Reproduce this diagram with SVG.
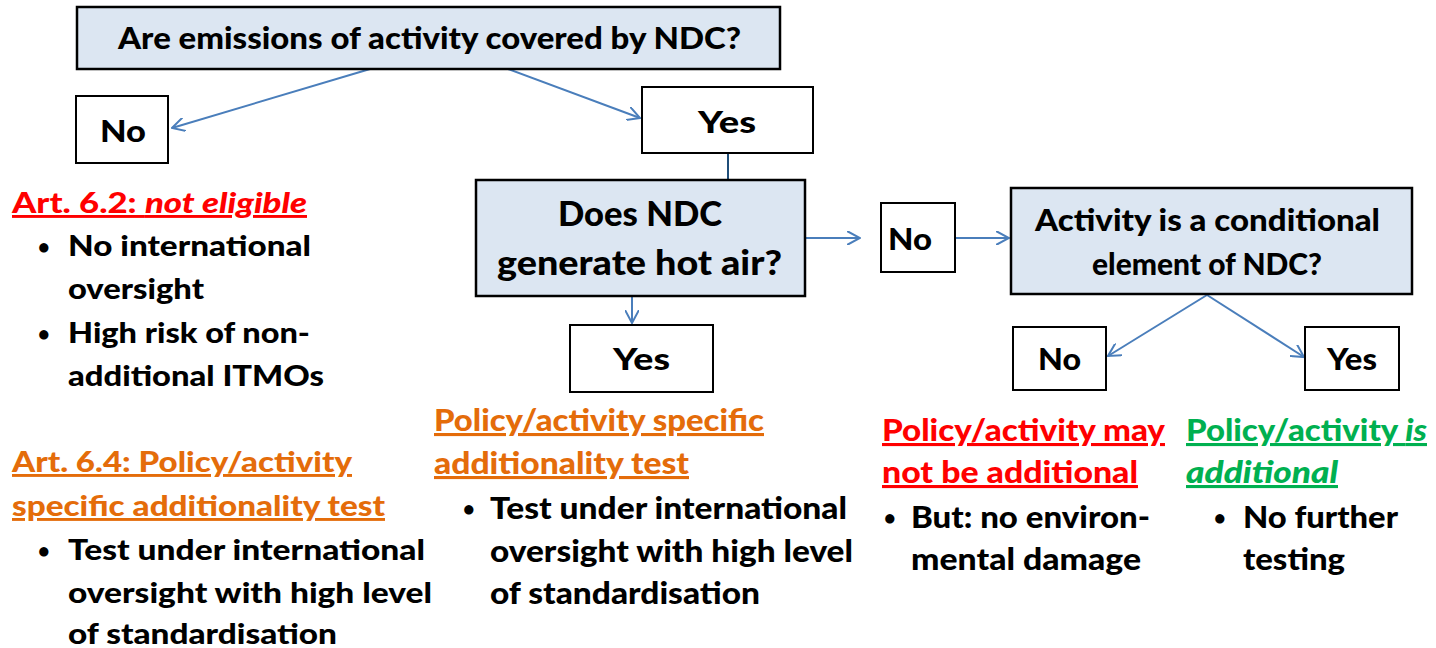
<svg xmlns="http://www.w3.org/2000/svg" width="1436" height="648" viewBox="0 0 1436 648">
  <style>
    .q { fill: #dce6f2; stroke: #000; stroke-width: 2.5; }
    .a { fill: #fff; stroke: #000; stroke-width: 2; }
    text { font-family: Lato, "Liberation Sans", sans-serif; font-weight: 900; fill: #000; }
    .u { text-decoration: underline; }
    .b { font-size: 20px; }
    .red { fill: #ff0000; }
    .org { fill: #e46c0a; }
    .grn { fill: #00b050; }
    .conn line { stroke: #4a7ebb; stroke-width: 2; marker-end: url(#arr); }
  </style>
  <defs>
    <marker id="arr" viewBox="0 0 14 14" refX="13" refY="7" markerWidth="14" markerHeight="14" markerUnits="userSpaceOnUse" orient="auto">
      <path d="M0,0 L13,7 L0,14" fill="none" stroke="#4a7ebb" stroke-width="2"/>
    </marker>
  </defs>

  <rect width="1436" height="648" fill="#fff"/>

  <!-- connectors -->
  <g id="connectors" class="conn">
    <line x1="370" y1="69" x2="172" y2="128"/>
    <line x1="508" y1="69" x2="640" y2="118"/>
    <line x1="728" y1="153" x2="728" y2="180" style="marker-end:none;stroke:#1f4e79"/>
    <line x1="632" y1="296" x2="632" y2="323"/>
    <line x1="805" y1="238" x2="860" y2="238"/>
    <line x1="956" y1="238" x2="1009" y2="238"/>
    <line x1="1207" y1="295" x2="1108" y2="356"/>
    <line x1="1207" y1="295" x2="1304" y2="357"/>
  </g>

  <g id="q-covered">
    <rect class="q" x="77" y="7" width="703" height="62"/>
    <text x="118" y="49" font-size="30" textLength="623" lengthAdjust="spacingAndGlyphs">Are emissions of activity covered by NDC?</text>
  </g>

  <g id="a-no-covered">
    <rect class="a" x="76" y="96" width="92" height="67"/>
    <text x="100" y="142" font-size="31" textLength="46" lengthAdjust="spacingAndGlyphs">No</text>
  </g>

  <g id="a-yes-covered">
    <rect class="a" x="642" y="87" width="171" height="66"/>
    <text x="698" y="133" font-size="31" textLength="58" lengthAdjust="spacingAndGlyphs">Yes</text>
  </g>

  <g id="q-hotair">
    <rect class="q" x="476" y="180" width="329" height="116"/>
    <text x="558" y="226" font-size="34" textLength="164" lengthAdjust="spacingAndGlyphs">Does NDC</text>
    <text x="497" y="275" font-size="34" textLength="285" lengthAdjust="spacingAndGlyphs">generate hot air?</text>
  </g>

  <g id="a-no-hotair">
    <rect class="a" x="881" y="203" width="74" height="69"/>
    <text x="888" y="250" font-size="31" textLength="44" lengthAdjust="spacingAndGlyphs">No</text>
  </g>

  <g id="q-conditional">
    <rect class="q" x="1011" y="188" width="401" height="106"/>
    <text x="1035" y="231" font-size="30" textLength="345" lengthAdjust="spacingAndGlyphs">Activity is a conditional</text>
    <text x="1092" y="275" font-size="30" textLength="230" lengthAdjust="spacingAndGlyphs">element of NDC?</text>
  </g>

  <g id="a-yes-hotair">
    <rect class="a" x="570" y="325" width="143" height="67"/>
    <text x="613" y="370" font-size="30" textLength="57" lengthAdjust="spacingAndGlyphs">Yes</text>
  </g>

  <g id="a-no-conditional">
    <rect class="a" x="1013" y="327" width="93" height="63"/>
    <text x="1038" y="370" font-size="30" textLength="43" lengthAdjust="spacingAndGlyphs">No</text>
  </g>

  <g id="a-yes-conditional">
    <rect class="a" x="1305" y="327" width="94" height="63"/>
    <text x="1327" y="370" font-size="30" textLength="50" lengthAdjust="spacingAndGlyphs">Yes</text>
  </g>

  <!-- Art. 6.2 note -->
  <g id="note-62">
    <text class="red u" x="12" y="213" font-size="29" textLength="295" lengthAdjust="spacingAndGlyphs">Art. 6.2: <tspan font-style="italic">not eligible</tspan></text>
    <text class="b" x="38" y="254">•</text>
    <text x="68" y="256" font-size="29" textLength="243" lengthAdjust="spacingAndGlyphs">No international</text>
    <text x="68" y="299" font-size="29" textLength="136" lengthAdjust="spacingAndGlyphs">oversight</text>
    <text class="b" x="38" y="341">•</text>
    <text x="68" y="343" font-size="29" textLength="242" lengthAdjust="spacingAndGlyphs">High risk of non-</text>
    <text x="68" y="386" font-size="29" textLength="256" lengthAdjust="spacingAndGlyphs">additional ITMOs</text>
  </g>

  <!-- Art. 6.4 note -->
  <g id="note-64">
    <text class="org u" x="12" y="472" font-size="29" textLength="340" lengthAdjust="spacingAndGlyphs">Art. 6.4: Policy/activity</text>
    <text class="org u" x="12" y="516" font-size="29" textLength="373" lengthAdjust="spacingAndGlyphs">specific additionality test</text>
    <text class="b" x="38" y="558">•</text>
    <text x="68" y="560" font-size="29" textLength="357" lengthAdjust="spacingAndGlyphs">Test under international</text>
    <text x="68" y="603" font-size="29" textLength="364" lengthAdjust="spacingAndGlyphs">oversight with high level</text>
    <text x="68" y="644" font-size="29" textLength="269" lengthAdjust="spacingAndGlyphs">of standardisation</text>
  </g>

  <!-- hot-air yes note (condensed) -->
  <g id="note-hotair">
    <text class="org u" x="434" y="431" font-size="31" textLength="330" lengthAdjust="spacingAndGlyphs">Policy/activity specific</text>
    <text class="org u" x="434" y="474" font-size="31" textLength="255" lengthAdjust="spacingAndGlyphs">additionality test</text>
    <text class="b" x="463" y="516">•</text>
    <text x="490" y="519" font-size="31" textLength="357" lengthAdjust="spacingAndGlyphs">Test under international</text>
    <text x="490" y="562" font-size="31" textLength="363" lengthAdjust="spacingAndGlyphs">oversight with high level</text>
    <text x="490" y="604" font-size="31" textLength="270" lengthAdjust="spacingAndGlyphs">of standardisation</text>
  </g>

  <!-- conditional no note (condensed) -->
  <g id="note-cond-no">
    <text class="red u" x="882" y="441" font-size="31" textLength="283" lengthAdjust="spacingAndGlyphs">Policy/activity may</text>
    <text class="red u" x="882" y="483" font-size="31" textLength="256" lengthAdjust="spacingAndGlyphs">not be additional</text>
    <text class="b" x="884" y="525">•</text>
    <text x="911" y="528" font-size="31" textLength="239" lengthAdjust="spacingAndGlyphs">But: no environ-</text>
    <text x="911" y="570" font-size="31" textLength="230" lengthAdjust="spacingAndGlyphs">mental damage</text>
  </g>

  <!-- conditional yes note (condensed) -->
  <g id="note-cond-yes">
    <text class="grn u" x="1186" y="441" font-size="31" textLength="241" lengthAdjust="spacingAndGlyphs">Policy/activity <tspan font-style="italic">is</tspan></text>
    <text class="grn u" x="1186" y="483" font-size="31" font-style="italic" textLength="152" lengthAdjust="spacingAndGlyphs">additional</text>
    <text class="b" x="1214" y="525">•</text>
    <text x="1243" y="528" font-size="31" textLength="155" lengthAdjust="spacingAndGlyphs">No further</text>
    <text x="1243" y="570" font-size="31" textLength="102" lengthAdjust="spacingAndGlyphs">testing</text>
  </g>
</svg>
